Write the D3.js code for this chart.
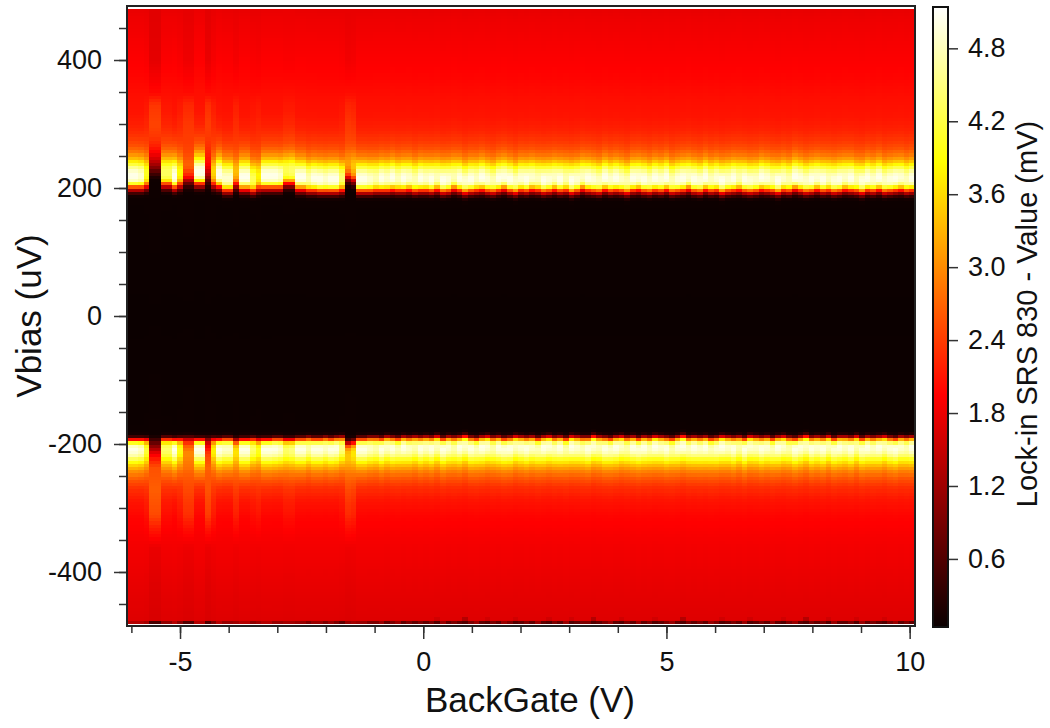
<!DOCTYPE html>
<html>
<head>
<meta charset="utf-8">
<script src="https://cdn.jsdelivr.net/npm/d3@7"></script>
<style>
  body { margin: 0; background: #fff; }
  svg { font-family: "Liberation Sans", Arial, sans-serif; }
</style>
</head>
<body>
<svg id="chart" width="1050" height="728"></svg>
<script>
// grid of the measurement
var gateStart = -6.09, gateStep = 0.1149, gateCount = 141;
var biasStart = -477.5, biasStep = 5, biasCount = 192;

// typical column profile (right part of the map), Vbias (uV) -> mV
var upBias   = [0, 178, 183, 187, 191, 195, 199, 203, 208, 214, 220, 226, 232, 238, 244, 252, 262, 275, 290, 310, 340, 370, 400, 430, 460, 478];
var upNormal = [0.05, 0.06, 0.12, 0.4, 1.0, 1.9, 3.0, 4.2, 4.9, 5.05, 5.0, 4.7, 4.2, 3.7, 3.25, 2.85, 2.55, 2.35, 2.2, 2.1, 2.05, 1.98, 1.93, 1.88, 1.83, 1.78];
var lowBias   = [-478, -473, -440, -400, -350, -310, -285, -266, -252, -240, -230, -222, -215, -209, -203, -198, -194, -191, -188, -185, -182, -178, 0];
var lowNormal = [0.6, 1.7, 1.74, 1.8, 1.88, 1.98, 2.1, 2.3, 2.6, 3.0, 3.5, 4.1, 4.7, 4.95, 5.05, 4.75, 3.9, 2.7, 1.4, 0.5, 0.15, 0.06, 0.05];

// smeared columns (the stripes near -5.5 V)
var smearUpBias = [0, 212, 218, 226, 235, 245, 255, 265, 280, 300, 330, 350, 400, 478];
var smearUp     = [0.05, 0.07, 0.2, 0.6, 1.15, 1.55, 1.9, 2.15, 2.35, 2.45, 2.35, 2.0, 1.75, 1.72];
var smearLowBias = [-478, -473, -420, -360, -330, -310, -270, -236, -224, -214, -206, -198, -190, -186, 0];
var smearLow     = [0.4, 1.65, 1.7, 1.8, 2.15, 2.5, 2.65, 2.55, 2.2, 1.8, 1.3, 0.8, 0.3, 0.07, 0.05];

// per column: shift of the upper / lower peak (uV), smear weight, peak gain
var upShift = [5, 5, 5, 7, 0, 0, 9, 9, 5, 8, 13, 13, 11, 11, 13, 8, 7, 1, 1, 8, 3, 3, 0, 3, 5, 5,
    5, 5, 11, 11, 3, 3, 1, 1, 0, 0, 0, 0, 1, 18, 15, 0, 0, 0, 1, 1, 1, 2, 1, 1, 2, 0, 1,
    1, 0, 2, -1, 0, 3, 1, -2, 0, 1,
    2, 0, -1, 1, 3, 0, -2, 1, 0, 2,
    1, -1, 0, 2, 0, 1, -2, 0, 3, 1,
    0, -1, 2, 0, 1, 0, -2, 1, 2, 0,
    -1, 1, 0, 2, -1, 0, 1, 3, 0, -1,
    2, 0, 1, -2, 0, 1, 2, 0, -1, 0,
    2, 1, 0, -2, 1, 0, 3, 1, -1, 0,
    2, 0, 1, -1, 0, 2, 1, 0, -2, 1,
    0, 2, -1, 0, 1, 2, 0, 1];
var lowShift = [3, 3, 3, 3, 0, 0, 2, 2, 3, 2, 0, 0, 3, 3, 0, 2, 3, 2, 2, 4, 3, 3, 2, 3, 3, 3,
    2, 2, 3, 3, 2, 2, 1, 2, 2, 1, 2, 1, 0, 8, 6, 2, 2, 1, 1, 2, 0, 1, 2, 0, 1, 0, 1,
    0, 1, -1, 2, 0, 1, 0, -2, 1, 2,
    0, -1, 1, 0, 2, 1, -1, 0, 1, 0,
    2, 0, -1, 1, 0, 2, -1, 0, 1, 1,
    -2, 0, 1, 2, 0, -1, 1, 0, 2, 0,
    1, -1, 0, 1, 2, 0, -2, 1, 0, 1,
    0, 2, 1, -1, 0, 1, 0, 2, -1, 0,
    1, 0, 2, 0, -1, 1, 2, 0, -2, 1,
    0, 1, -1, 2, 0, 0, 1, -1, 2, 0,
    1, 0, -1, 1, 2, 0, 1, 0];
var smear = [0, 0, 0, .15, 1, 1, .1, .1, 0, .2, .6, .6, 0, 0, .8, .3, 0, 0, 0, .35, 0, 0, .1, .2, 0, 0,
    0, 0, .15, .15, 0, 0, 0, 0, 0, 0, 0, 0, .1, .5, .4];
var gain = [1, 1, .95, .85, 1, 1, .9, .9, 1, .85, 1, 1, 1, 1, 1, .9, 1, .95, .95, .9, 1, 1, .9, .85, 1, 1,
    1, .95, .95, 1, 1, 1, .9, 1, 1, .95, 1, 1, .95, 1, 1, 1, 1, .95, .9, 1, .95, 1, .92, 1, .95, .9, 1,
    .95, 1, .92, 1, .97, .9, 1, .95, 1, .93,
    1, .96, .9, 1, .98, 1, .93, .97, 1, .95,
    .92, 1, .97, .94, 1, .9, 1, .96, .93, 1,
    .97, .92, 1, .95, 1, .94, .9, 1, .97, 1,
    .93, 1, .96, 1, .9, .98, 1, .94, 1, .96,
    1, .92, .97, 1, .95, 1, .9, 1, .96, .94,
    1, .97, .92, 1, .95, .9, 1, .98, .94, 1,
    .96, 1, .92, .97, 1, .94, 1, .9, .97, 1,
    .95, 1, .93, .98, 1, .96, .92, 1];

var xMajor = [-5, 0, 5, 10];
var yMajor = [-400, -200, 0, 200, 400];
var cbTicks = [0.6, 1.2, 1.8, 2.4, 3.0, 3.6, 4.2, 4.8];
var cbStops = [0.04, 1.95, 3.865, 5.14];
var cbColors = ["#0a0000", "#ff0000", "#ffff00", "#ffffff"];

var svg = d3.select("#chart");
var plotLeft = 127, plotRight = 915, plotTop = 6, plotBottom = 626;

var x = d3.scaleLinear().domain([-6.09, 10.11]).range([plotLeft, plotRight]);
var y = d3.scaleLinear().domain([-484.4, 484.4]).range([plotBottom, plotTop]);
var color = d3.scaleLinear().domain(cbStops).range(cbColors).clamp(true);

var upN = d3.scaleLinear().domain(upBias).range(upNormal).clamp(true),
    lowN = d3.scaleLinear().domain(lowBias).range(lowNormal).clamp(true),
    upS = d3.scaleLinear().domain(smearUpBias).range(smearUp).clamp(true),
    lowS = d3.scaleLinear().domain(smearLowBias).range(smearLow).clamp(true);

function cellValue(c, b) {
    var s = smear[c] || 0, v;
    if (b >= 0) v = (1 - s) * upN(b - upShift[c]) + s * upS(b);
    else v = (1 - s) * lowN(b + lowShift[c]) + s * lowS(b);
    if (v > 2.2) v = 2.2 + (v - 2.2) * gain[c];
    return v;
}

var cells = [];
d3.range(gateCount).forEach(function (c) {
    var g = gateStart + c * gateStep;
    d3.range(biasCount).forEach(function (r) {
        var b = biasStart + r * biasStep;
        cells.push({ g: g, b: b, v: cellValue(c, b) });
    });
});

svg.append("clipPath").attr("id", "plotclip")
    .append("rect").attr("x", plotLeft).attr("y", plotTop)
    .attr("width", plotRight - plotLeft).attr("height", plotBottom - plotTop);

svg.append("g")
    .attr("clip-path", "url(#plotclip)")
    .attr("shape-rendering", "crispEdges")
    .selectAll("rect")
    .data(cells)
    .enter().append("rect")
    .attr("x", function (d) { return x(d.g); })
    .attr("y", function (d) { return y(d.b + biasStep / 2); })
    .attr("width", function (d) { return x(d.g + gateStep) - x(d.g) + 0.6; })
    .attr("height", function (d) { return y(d.b - biasStep / 2) - y(d.b + biasStep / 2) + 0.6; })
    .attr("fill", function (d) { return color(d.v); });

// frame
svg.append("rect")
    .attr("x", plotLeft).attr("y", plotTop)
    .attr("width", plotRight - plotLeft).attr("height", plotBottom - plotTop)
    .attr("fill", "none").attr("stroke", "#222").attr("stroke-width", 2);

function styleAxis(g) {
    g.select(".domain").remove();
    g.selectAll(".tick line").attr("stroke", "#333").attr("stroke-width", 1.5);
    g.selectAll("text").attr("font-size", 27).attr("fill", "#111")
        .attr("font-family", "'Liberation Sans', Arial, sans-serif");
}

function plain(d) { return String(d); }

// x axis: minor every 1 V, major every 5 V
svg.append("g").attr("transform", "translate(0," + (plotBottom + 1) + ")")
    .call(d3.axisBottom(x).tickValues(d3.range(-6, 11, 1)).tickSize(6).tickFormat(""))
    .call(styleAxis);
svg.append("g").attr("transform", "translate(0," + (plotBottom + 1) + ")")
    .call(d3.axisBottom(x).tickValues(xMajor).tickSize(12).tickPadding(13).tickFormat(plain))
    .call(styleAxis);

// y axis: minor every 50 uV, major every 200 uV
svg.append("g").attr("transform", "translate(" + (plotLeft - 1) + ",0)")
    .call(d3.axisLeft(y).tickValues(d3.range(-450, 451, 50)).tickSize(7).tickFormat(""))
    .call(styleAxis);
svg.append("g").attr("transform", "translate(" + (plotLeft - 1) + ",0)")
    .call(d3.axisLeft(y).tickValues(yMajor).tickSize(12).tickPadding(12).tickFormat(plain))
    .call(styleAxis);

svg.append("text")
    .attr("x", 530).attr("y", 712)
    .attr("text-anchor", "middle")
    .attr("font-size", 35).attr("fill", "#111")
    .text("BackGate (V)");

svg.append("text")
    .attr("transform", "translate(41,316) rotate(-90)")
    .attr("text-anchor", "middle")
    .attr("font-size", 35).attr("fill", "#111")
    .text("Vbias (uV)");

// colour bar
var cbX = 933, cbW = 15, cbTop = 7, cbBottom = 627;
var cbScale = d3.scaleLinear().domain([0.04, 5.14]).range([cbBottom, cbTop]);

var grad = svg.append("defs").append("linearGradient")
    .attr("id", "cbgrad")
    .attr("x1", 0).attr("y1", 1).attr("x2", 0).attr("y2", 0);
grad.selectAll("stop")
    .data(cbStops)
    .enter().append("stop")
    .attr("offset", function (d) { return (d - cbStops[0]) / (cbStops[cbStops.length - 1] - cbStops[0]); })
    .attr("stop-color", function (d, i) { return cbColors[i]; });

svg.append("rect")
    .attr("x", cbX).attr("y", cbTop)
    .attr("width", cbW).attr("height", cbBottom - cbTop)
    .attr("fill", "url(#cbgrad)")
    .attr("stroke", "#111").attr("stroke-width", 2);

svg.append("g").attr("transform", "translate(" + (cbX + cbW + 1) + ",0)")
    .call(d3.axisRight(cbScale).tickValues(cbTicks).tickSize(9).tickPadding(10).tickFormat(d3.format(".1f")))
    .call(styleAxis);

svg.append("text")
    .attr("transform", "translate(1037,314) rotate(-90)")
    .attr("text-anchor", "middle")
    .attr("font-size", 29).attr("fill", "#111")
    .text("Lock-in SRS 830 - Value (mV)");
</script>
</body>
</html>
